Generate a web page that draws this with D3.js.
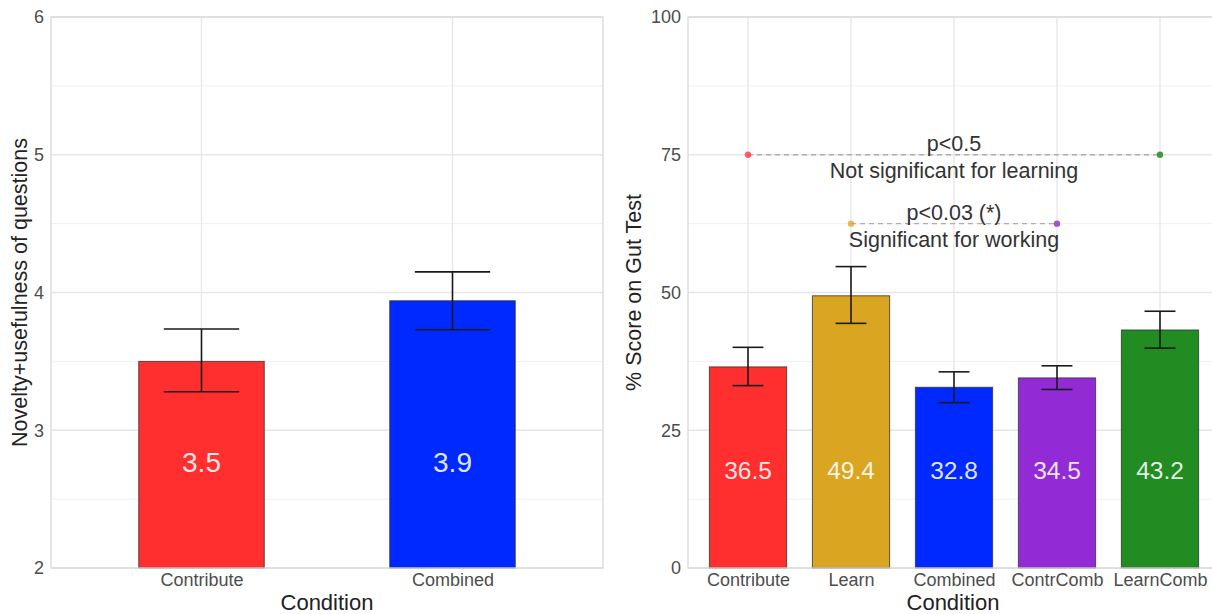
<!DOCTYPE html>
<html>
<head>
<meta charset="utf-8">
<script src="https://cdn.jsdelivr.net/npm/d3@7"></script>
<style>
  body { margin: 0; background: #fff; }
  text { font-family: "Liberation Sans", Arial, sans-serif; }
</style>
</head>
<body>
<svg id="chart" width="1212" height="614"></svg>
<script>
// left panel data
const leftCats = ["Contribute", "Combined"];
const leftMeans = [3.5, 3.94];
const leftLow = [3.28, 3.73];
const leftHigh = [3.735, 4.15];
const leftLabels = ["3.5", "3.9"];
const leftColors = ["#ff2f2f", "#0029ff"];
const leftTicks = [2, 3, 4, 5, 6];

// right panel data
const rightCats = ["Contribute", "Learn", "Combined", "ContrComb", "LearnComb"];
const rightMeans = [36.5, 49.4, 32.8, 34.5, 43.2];
const rightLow = [33.1, 44.4, 30.0, 32.4, 39.9];
const rightHigh = [40.05, 54.7, 35.6, 36.7, 46.6];
const rightLabels = ["36.5", "49.4", "32.8", "34.5", "43.2"];
const rightColors = ["#ff2f2f", "#daa520", "#0029ff", "#922bd6", "#228b22"];
const rightTicks = [0, 25, 50, 75, 100];

// comparison annotations on the right panel
const comparisons = [
  { from: "Contribute", to: "LearnComb", y: 75, top: "p<0.5", bottom: "Not significant for learning",
    c1: "#ff3030", c2: "#228b22" },
  { from: "Learn", to: "ContrComb", y: 62.5, top: "p<0.03 (*)", bottom: "Significant for working",
    c1: "#daa520", c2: "#9932cc" }
];

const svg = d3.select("#chart");
const plotTop = 17, plotBottom = 568;

function panel(opt) {
  const g = svg.append("g");
  const x = d3.scalePoint().domain(opt.cats).range([opt.x0 + opt.pad, opt.x1 - opt.pad]);
  const step = x.step();
  const y = d3.scaleLinear().domain(opt.domain).range([plotBottom, plotTop]);

  // grid
  const minor = d3.range(opt.ticks.length - 1).map(i => (opt.ticks[i] + opt.ticks[i + 1]) / 2);
  g.selectAll(".minor").data(minor).enter().append("line")
    .attr("x1", opt.x0).attr("x2", opt.x1)
    .attr("y1", d => y(d)).attr("y2", d => y(d))
    .attr("stroke", "#f0f0f0").attr("stroke-width", 1);
  g.selectAll(".major").data(opt.ticks).enter().append("line")
    .attr("x1", opt.x0).attr("x2", opt.x1)
    .attr("y1", d => y(d)).attr("y2", d => y(d))
    .attr("stroke", "#e6e6e6").attr("stroke-width", 1.3);
  g.selectAll(".vgrid").data(opt.cats).enter().append("line")
    .attr("x1", d => x(d)).attr("x2", d => x(d))
    .attr("y1", plotTop).attr("y2", plotBottom)
    .attr("stroke", "#e6e6e6").attr("stroke-width", 1.3);

  // axes (text only)
  const yAxis = g.append("g").attr("transform", `translate(${opt.x0},0)`)
    .call(d3.axisLeft(y).tickValues(opt.ticks).tickFormat(d3.format("d")).tickSize(0).tickPadding(7));
  yAxis.select(".domain").remove();
  yAxis.selectAll("text").attr("font-size", 18).attr("fill", "#4d4d4d")
    .attr("font-family", "Liberation Sans, Arial, sans-serif");

  const xAxis = g.append("g").attr("transform", `translate(0,${plotBottom})`)
    .call(d3.axisBottom(x).tickSize(0).tickPadding(5));
  xAxis.select(".domain").remove();
  xAxis.selectAll("text").attr("font-size", 18).attr("fill", "#4d4d4d")
    .attr("font-family", "Liberation Sans, Arial, sans-serif");

  // bars
  const bw = step * opt.barFrac;
  g.selectAll(".bar").data(opt.cats).enter().append("rect")
    .attr("x", d => x(d) - bw / 2)
    .attr("y", (d, i) => y(opt.means[i]))
    .attr("width", bw)
    .attr("height", (d, i) => y(opt.domain[0]) - y(opt.means[i]))
    .attr("fill", (d, i) => opt.colors[i])
    .attr("stroke", "#333").attr("stroke-opacity", 0.8).attr("stroke-width", 1);

  // error bars
  const cw = step * 0.3;
  const eb = g.selectAll(".err").data(opt.cats).enter().append("g")
    .attr("stroke", "#1a1a1a").attr("stroke-width", 1.6);
  eb.append("line").attr("x1", d => x(d)).attr("x2", d => x(d))
    .attr("y1", (d, i) => y(opt.low[i])).attr("y2", (d, i) => y(opt.high[i]));
  eb.append("line").attr("x1", d => x(d) - cw / 2).attr("x2", d => x(d) + cw / 2)
    .attr("y1", (d, i) => y(opt.low[i])).attr("y2", (d, i) => y(opt.low[i]));
  eb.append("line").attr("x1", d => x(d) - cw / 2).attr("x2", d => x(d) + cw / 2)
    .attr("y1", (d, i) => y(opt.high[i])).attr("y2", (d, i) => y(opt.high[i]));

  // value labels
  g.selectAll(".lab").data(opt.cats).enter().append("text")
    .attr("x", d => x(d)).attr("y", y(opt.labelAt))
    .attr("text-anchor", "middle")
    .attr("font-size", opt.labelSize).attr("fill", "#fff").attr("fill-opacity", 0.88)
    .text((d, i) => opt.labels[i]);

  // panel border
  g.append("rect").attr("x", opt.x0).attr("y", plotTop)
    .attr("width", opt.x1 - opt.x0).attr("height", plotBottom - plotTop)
    .attr("fill", "none").attr("stroke", "#d9d9d9").attr("stroke-width", 1.3);

  // titles
  g.append("text").attr("x", opt.titleX).attr("y", 610)
    .attr("text-anchor", "middle").attr("font-size", 22).attr("fill", "#222")
    .text("Condition");
  g.append("text")
    .attr("transform", `translate(${opt.yTitleX},${(plotTop + plotBottom) / 2}) rotate(-90)`)
    .attr("text-anchor", "middle").attr("font-size", 21.5).attr("fill", "#222")
    .text(opt.yTitle);

  return { g, x, y };
}

panel({
  cats: leftCats, means: leftMeans, low: leftLow, high: leftHigh, labels: leftLabels,
  colors: leftColors, ticks: leftTicks, domain: [2, 6],
  x0: 51, x1: 603, pad: 150.5, barFrac: 0.5,
  labelAt: 2.7, labelSize: 28, titleX: 327, yTitleX: 27,
  yTitle: "Novelty+usefulness of questions"
});

const right = panel({
  cats: rightCats, means: rightMeans, low: rightLow, high: rightHigh, labels: rightLabels,
  colors: rightColors, ticks: rightTicks, domain: [0, 100],
  x0: 688, x1: 1220, pad: 60, barFrac: 0.75,
  labelAt: 16.2, labelSize: 24.5, titleX: 953, yTitleX: 641,
  yTitle: "% Score on Gut Test"
});

// significance annotations
comparisons.forEach(c => {
  const { g, x, y } = right;
  const x1 = x(c.from), x2 = x(c.to), yy = y(c.y);
  g.append("line").attr("x1", x1).attr("x2", x2).attr("y1", yy).attr("y2", yy)
    .attr("stroke", "#b0b0b0").attr("stroke-width", 1.3).attr("stroke-dasharray", "5,4");
  g.append("circle").attr("cx", x1).attr("cy", yy).attr("r", 3.2).attr("fill", c.c1).attr("fill-opacity", 0.75);
  g.append("circle").attr("cx", x2).attr("cy", yy).attr("r", 3.2).attr("fill", c.c2).attr("fill-opacity", 0.85);
  const mid = x("Combined");
  g.append("text").attr("x", mid).attr("y", yy - 4).attr("text-anchor", "middle")
    .attr("font-size", 21.5).attr("fill", "#333").text(c.top);
  g.append("text").attr("x", mid).attr("y", yy + 23).attr("text-anchor", "middle")
    .attr("font-size", 21.5).attr("fill", "#333").text(c.bottom);
});
</script>
</body>
</html>
